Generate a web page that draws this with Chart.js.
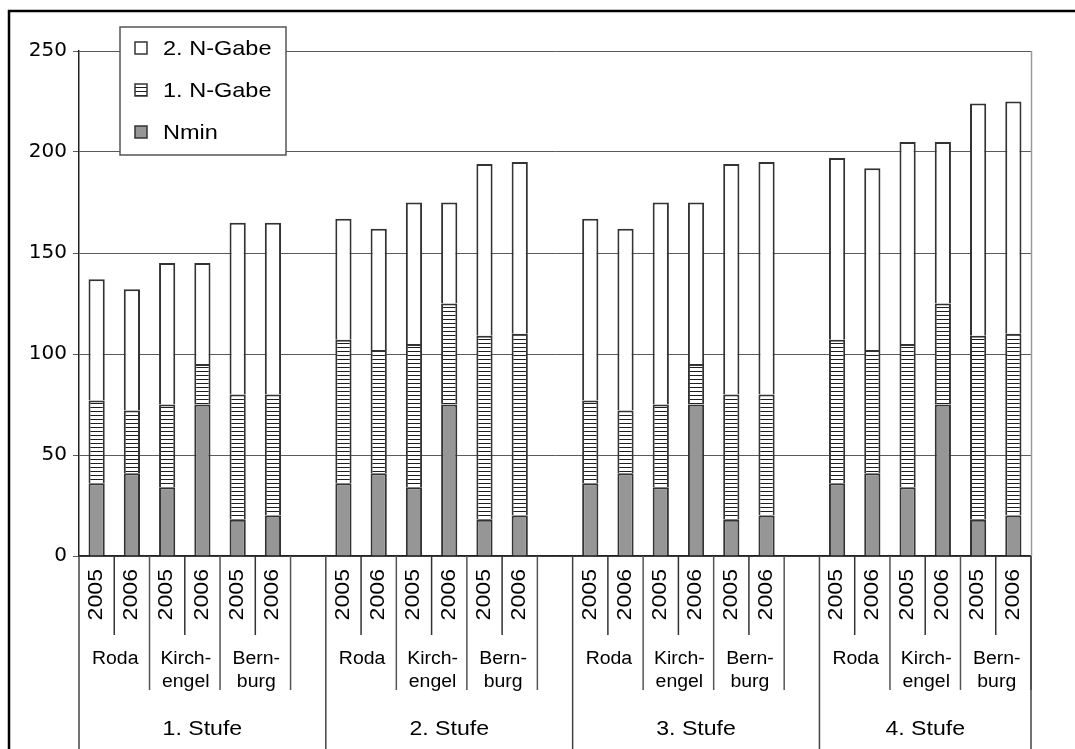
<!DOCTYPE html>
<html>
<head>
<meta charset="utf-8">
<script src="https://cdn.jsdelivr.net/npm/chart.js@4.4.1/dist/chart.umd.min.js"></script>
<style>
  html, body { margin: 0; padding: 0; background: #fff; }
  #wrap { width: 1075px; height: 749px; position: relative; }
</style>
</head>
<body>
<div id="wrap"><canvas id="c" width="1075" height="749"></canvas></div>
<script>
// Hierarchy of the category axis
const stufen = ['1. Stufe', '2. Stufe', '3. Stufe', '4. Stufe'];
const orte = [['Roda'], ['Kirch-', 'engel'], ['Bern-', 'burg']];
const jahre = ['2005', '2006'];

// N amounts (kg N/ha) per bar, ordered Stufe > Ort > Jahr
const nmin = [36, 41, 34, 75, 18, 20,   36, 41, 34, 75, 18, 20,
              36, 41, 34, 75, 18, 20,   36, 41, 34, 75, 18, 20];
const gabe1 = [41, 31, 41, 20, 62, 60,  71, 61, 71, 50, 91, 90,
               41, 31, 41, 20, 62, 60,  71, 61, 71, 50, 91, 90];
const gabe2 = [60, 60, 70, 50, 85, 85,  60, 60, 70, 50, 85, 85,
               90, 90, 100, 80, 114, 115, 90, 90, 100, 80, 115, 115];

const yTicks = [0, 50, 100, 150, 200, 250];

const perGroup = orte.length * jahre.length;

// Category labels with one empty slot between Stufen
const labels = [];
stufen.forEach((s, g) => {
  orte.forEach(() => jahre.forEach(j => labels.push(j)));
  if (g < stufen.length - 1) labels.push('');
});

function spread(arr) {
  const out = [];
  let k = 0;
  stufen.forEach((s, g) => {
    for (let i = 0; i < perGroup; i++) out.push(arr[k++]);
    if (g < stufen.length - 1) out.push(null);
  });
  return out;
}

const canvas = document.getElementById('c');
const ctx = canvas.getContext('2d');

// Horizontal hatching for the 1. N-Gabe segments
const pc = document.createElement('canvas');
pc.width = 4; pc.height = 4;
const pctx = pc.getContext('2d');
pctx.fillStyle = '#fff'; pctx.fillRect(0, 0, 4, 4);
pctx.fillStyle = '#1e1e1e'; pctx.fillRect(0, 3, 4, 1);
const stripe = ctx.createPattern(pc, 'repeat');

const FONT = '"Liberation Sans", Arial, sans-serif';

function sText(c, str, x, y, size, sx, align, baseline, rotate) {
  c.save();
  c.translate(x, y);
  if (rotate) c.rotate(-Math.PI / 2);
  c.scale(sx, 1);
  c.font = size + 'px ' + FONT;
  c.textAlign = align;
  c.textBaseline = baseline;
  c.fillStyle = '#000';
  c.fillText(str, 0, 0);
  c.restore();
}

function vline(c, x, y1, y2, color, w) {
  c.save();
  c.strokeStyle = color; c.lineWidth = w;
  c.beginPath(); c.moveTo(x, y1); c.lineTo(x, y2); c.stroke();
  c.restore();
}

// Multi-level axis, legend box and frame
const decor = {
  id: 'decor',
  afterDraw(chart) {
    const c = chart.ctx;
    const xs = chart.scales.x;
    const area = chart.chartArea;
    const bottom = area.bottom;
    const H = chart.height;
    const slot = xs.width / labels.length;
    const bnd = i => xs.getPixelForValue(i) - slot / 2;
    const groupLen = perGroup + 1;

    // plot-area right edge
    vline(c, area.right + 0.5, area.top, bottom, '#9a9a9a', 1.5);

    stufen.forEach((s, g) => {
      const s0 = g * groupLen;
      // year labels
      for (let i = 0; i < perGroup; i++) {
        const idx = s0 + i;
        sText(c, labels[idx], xs.getPixelForValue(idx) - 0.5, bottom + 13, 21, 1.1, 'right', 'middle', true);
      }
      // separators
      for (let l = 0; l < orte.length; l++) {
        vline(c, bnd(s0 + l * 2 + 1), bottom, bottom + 79, '#333', 1.5);
        vline(c, bnd(s0 + l * 2 + 2), bottom, bottom + 134, '#555', 1.5);
        // location label
        const cx = (xs.getPixelForValue(s0 + l * 2) + xs.getPixelForValue(s0 + l * 2 + 1)) / 2;
        orte[l].forEach((line, k) => {
          sText(c, line, cx + 1, bottom + 108 + k * 23, 18, 1.08, 'center', 'alphabetic', false);
        });
      }
      const left = bnd(s0);
      const right = g < stufen.length - 1 ? bnd(s0 + groupLen) : bnd(s0 + perGroup);
      vline(c, left, bottom, H, '#444', 1.5);
      if (g === stufen.length - 1) vline(c, right, bottom, H, '#444', 1.5);
      sText(c, s, (left + right) / 2, bottom + 179, 21, 1.1, 'center', 'alphabetic', false);
    });

    // legend box
    c.save();
    c.fillStyle = '#fff';
    c.fillRect(120, 27, 166, 128);
    c.strokeStyle = '#555'; c.lineWidth = 1.5;
    c.strokeRect(120, 27, 166, 128);
    const items = chart.data.datasets.slice().reverse();
    items.forEach((ds, k) => {
      const cy = 48 + k * 42;
      c.fillStyle = ds.backgroundColor;
      c.fillRect(135, cy - 6, 12, 12);
      c.strokeStyle = '#333'; c.lineWidth = 1.5;
      c.strokeRect(135, cy - 6, 12, 12);
      sText(c, ds.label, 163, cy + 1, 21, 1.12, 'left', 'middle', false);
    });
    c.restore();

    // outer frame
    c.save();
    c.strokeStyle = '#000'; c.lineWidth = 2.5;
    c.beginPath();
    c.moveTo(9, H); c.lineTo(9, 11); c.lineTo(chart.width, 11);
    c.stroke();
    c.restore();
  }
};

const barStyle = { borderColor: '#333', borderWidth: 2, borderSkipped: 'start' };

new Chart(ctx, {
  type: 'bar',
  data: {
    labels: labels,
    datasets: [
      Object.assign({ label: 'Nmin', data: spread(nmin), backgroundColor: '#969696' }, barStyle),
      Object.assign({ label: '1. N-Gabe', data: spread(gabe1), backgroundColor: stripe }, barStyle),
      Object.assign({ label: '2. N-Gabe', data: spread(gabe2), backgroundColor: '#ffffff' }, barStyle)
    ]
  },
  options: {
    responsive: false,
    animation: false,
    devicePixelRatio: 1,
    layout: { padding: { top: 51, right: 44, bottom: 0, left: 0 } },
    plugins: { legend: { display: false }, tooltip: { enabled: false } },
    datasets: { bar: { barPercentage: 0.46, categoryPercentage: 1 } },
    scales: {
      x: {
        stacked: true,
        grid: { display: false, drawTicks: false },
        border: { display: true, color: '#222', width: 1.5 },
        ticks: { display: false },
        afterFit(s) { s.height = 193; }
      },
      y: {
        stacked: true,
        min: 0, max: 250,
        afterBuildTicks(s) { s.ticks = yTicks.map(v => ({ value: v })); },
        grid: { color: '#5a5a5a', lineWidth: 1, tickLength: 6, drawTicks: true },
        border: { color: '#222', width: 1.5 },
        ticks: { font: { family: 'DejaVu Sans', size: 20 }, color: '#000', padding: 6 },
        afterFit(s) { s.width = 79; }
      }
    }
  },
  plugins: [decor]
});
</script>
</body>
</html>
